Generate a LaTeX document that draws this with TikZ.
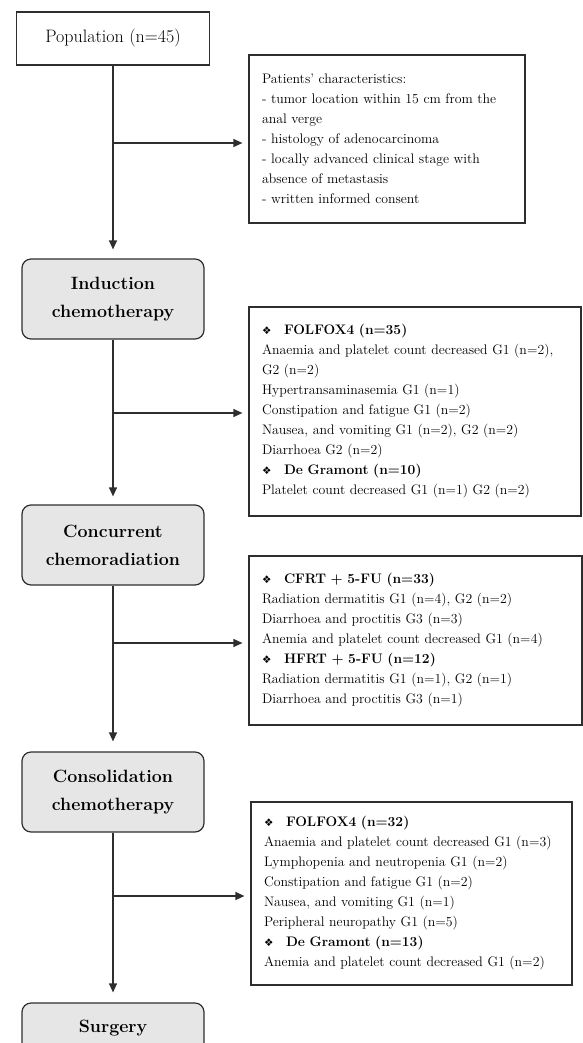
\documentclass[tikz,border=0pt]{standalone}
\usepackage{fontspec}
\usepackage{tikz}
\usetikzlibrary{arrows.meta}
\newfontfamily\dingfont{DejaVu Sans}
\definecolor{linegray}{HTML}{2E2E2E}
\definecolor{boxgray}{HTML}{E6E6E6}
\newcommand{\grp}[1]{\makebox[22pt][l]{\dingfont\fontsize{10.5}{10}\selectfont ❖}\textbf{#1}}

\begin{document}
\begin{tikzpicture}[x=1pt,y=-1pt,
    every node/.style={text=black},
    pop box/.style={draw=linegray, line width=1.2pt, minimum width=193pt,
      minimum height=53pt, font=\fontsize{18}{20}\selectfont},
    phase box/.style={draw=linegray, line width=1.2pt, fill=boxgray,
      rounded corners=9pt, minimum width=182pt, minimum height=80pt,
      align=center, font=\fontsize{17.8}{28}\selectfont\bfseries},
    info box/.style={draw=linegray, line width=1.2pt, inner xsep=13pt,
      align=left, font=\fontsize{13.8}{20}\selectfont},
    flow/.style={draw=linegray, line width=1.2pt,
      -{Triangle[length=9pt,width=8pt]}}]
          \useasboundingbox (0,0) rectangle (583,1043);
          \clip (0,0) rectangle (583,1043);

          % Stages
          \node [pop box] (pop) at (113, 38.5) {Population (n=45)};
          \node [phase box] (ind) at (113, 299) {Induction\\chemotherapy};
          \node [phase box] (ccrt) at (113, 545) {Concurrent\\chemoradiation};
          \node [phase box] (cons) at (113, 792) {Consolidation\\chemotherapy};
          \node [phase box, minimum height=50pt] (surg) at (113, 1028) {Surgery};

          % Side boxes
          \node [info box, text width=250pt, minimum height=168pt] (crit) at (387, 139)
            {Patients' characteristics:\\
             - tumor location within 15 cm from the\\
             anal verge\\
             - histology of adenocarcinoma\\
             - locally advanced clinical stage with\\
             absence of metastasis\\
             - written informed consent};
          \node [info box, text width=306pt, minimum height=209pt] (tox1) at (415, 411.5)
            {\grp{FOLFOX4 (n=35)}\\
             Anaemia and platelet count decreased G1 (n=2),\\
             G2 (n=2)\\
             Hypertransaminasemia G1 (n=1)\\
             Constipation and fatigue G1 (n=2)\\
             Nausea, and vomiting G1 (n=2), G2 (n=2)\\
             Diarrhoea G2 (n=2)\\
             \grp{De Gramont (n=10)}\\
             Platelet count decreased G1 (n=1) G2 (n=2)};
          \node [info box, text width=307pt, minimum height=169pt] (tox2) at (415.5, 640.5)
            {\grp{CFRT + 5-FU (n=33)}\\
             Radiation dermatitis G1 (n=4), G2 (n=2)\\
             Diarrhoea and proctitis G3 (n=3)\\
             Anemia and platelet count decreased G1 (n=4)\\
             \grp{HFRT + 5-FU (n=12)}\\
             Radiation dermatitis G1 (n=1), G2 (n=1)\\
             Diarrhoea and proctitis G3 (n=1)};
          \node [info box, text width=295pt, minimum height=183pt] (tox3) at (411.5, 893.5)
            {\grp{FOLFOX4 (n=32)}\\
             Anaemia and platelet count decreased G1 (n=3)\\
             Lymphopenia and neutropenia G1 (n=2)\\
             Constipation and fatigue G1 (n=2)\\
             Nausea, and vomiting G1 (n=1)\\
             Peripheral neuropathy G1 (n=5)\\
             \grp{De Gramont (n=13)}\\
             Anemia and platelet count decreased G1 (n=2)};

          % Branch points
          \coordinate (j1) at (113, 143);
          \coordinate (j2) at (113, 413);
          \coordinate (j3) at (113, 643);
          \coordinate (j4) at (113, 896);

          % Arrows
          \draw [flow, shorten >=9pt] (pop) -- (ind);
          \draw [flow, shorten >=8pt] (ind) -- (ccrt);
          \draw [flow, shorten >=10pt] (ccrt) -- (cons);
          \draw [flow, shorten >=10pt] (cons) -- (surg);
          \draw [flow, shorten >=6pt] (j1) -- (j1 -| crit.west);
          \draw [flow, shorten >=6pt] (j2) -- (j2 -| tox1.west);
          \draw [flow, shorten >=6pt] (j3) -- (j3 -| tox2.west);
          \draw [flow, shorten >=6pt] (j4) -- (j4 -| tox3.west);
        \end{tikzpicture}
\end{document}
